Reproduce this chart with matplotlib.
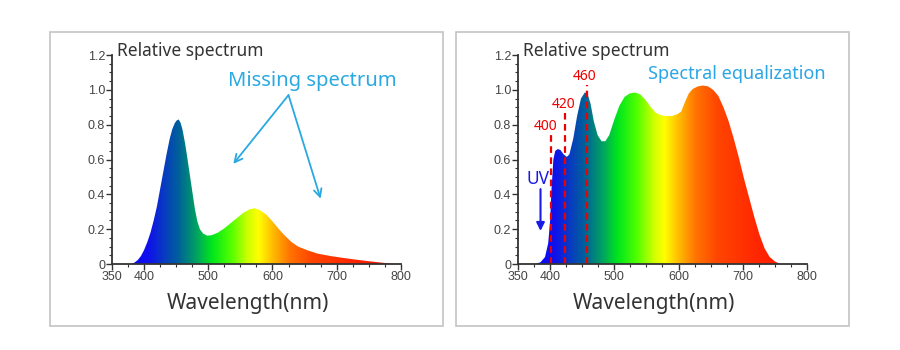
import numpy as np
import matplotlib.pyplot as plt
from matplotlib.colors import LinearSegmentedColormap
from matplotlib.patches import Rectangle
from matplotlib.ticker import MultipleLocator, FixedLocator, FuncFormatter

# left panel: spectrum with missing parts
wl_left = [380, 385, 390, 395, 400, 405, 410, 415, 420, 425, 430, 435, 440, 444, 448,
           451, 454, 457, 460, 464, 467, 471, 475, 479, 483, 487, 492, 498, 505, 515,
           525, 535, 545, 555, 565, 572, 580, 590, 600, 610, 620, 630, 640, 655, 670,
           690, 710, 730, 750, 770, 790]
val_left = [0, 0.008, 0.022, 0.045, 0.08, 0.125, 0.18, 0.25, 0.33, 0.43, 0.53, 0.63,
            0.72, 0.775, 0.81, 0.825, 0.83, 0.81, 0.77, 0.69, 0.62, 0.52, 0.42, 0.32,
            0.245, 0.2, 0.175, 0.163, 0.165, 0.18, 0.205, 0.235, 0.265, 0.295, 0.315,
            0.32, 0.31, 0.285, 0.245, 0.2, 0.16, 0.125, 0.1, 0.078, 0.06, 0.046, 0.035,
            0.025, 0.016, 0.008, 0]

# right panel: equalized spectrum
wl_right = [377, 385, 392, 397, 400, 402, 405, 408, 412, 416, 421, 426, 430, 436, 442,
            448, 454, 458, 463, 468, 474, 480, 486, 492, 500, 508, 516, 524, 532, 540,
            548, 556, 564, 572, 580, 590, 598, 604, 610, 616, 622, 630, 638, 646, 654,
            662, 670, 678, 686, 694, 702, 710, 718, 726, 734, 742, 750, 758]
val_right = [0, 0.01, 0.04, 0.12, 0.25, 0.42, 0.6, 0.65, 0.66, 0.655, 0.63, 0.615, 0.63,
             0.72, 0.85, 0.95, 0.985, 0.98, 0.92, 0.82, 0.74, 0.705, 0.705, 0.74, 0.83,
             0.91, 0.96, 0.98, 0.985, 0.975, 0.945, 0.905, 0.87, 0.855, 0.85, 0.85, 0.86,
             0.875, 0.93, 0.98, 1.005, 1.02, 1.025, 1.02, 1.0, 0.965, 0.9, 0.82, 0.72,
             0.61, 0.49, 0.38, 0.27, 0.17, 0.09, 0.04, 0.015, 0]

# marked wavelengths (line position, label, top of line)
mark_wl = [401, 423, 457]
mark_lbl = ['400', '420', '460']
mark_top = [0.74, 0.87, 1.03]

# colour stops of the spectrum gradient
stop_wl = [350, 405, 455, 480, 505, 535, 560, 578, 600, 625, 660, 720, 800]
stop_col = ['#0000ff', '#1010ee', '#006496', '#00a064', '#00e61e', '#50ff00', '#c8ff00',
            '#ffff00', '#ffbe00', '#ff7800', '#ff4600', '#ff2800', '#ff0a00']

cmap = LinearSegmentedColormap.from_list(
    'spec', [((w - 350) / 450, c) for w, c in zip(stop_wl, stop_col)])

fig = plt.figure(figsize=(9, 3.5), dpi=100)

# panel frames
for x0 in [50, 456]:
    fig.patches.append(Rectangle((x0 / 900, 24 / 350), 393 / 900, 294 / 350,
                                 transform=fig.transFigure, fill=False,
                                 edgecolor='#c4c4c4', linewidth=1.2))


def draw_panel(left, wl, val, xlab_pos):
    ax = fig.add_axes([left, 0.2457, 0.321, 0.597])
    poly = ax.fill_between(wl, val, 0, color='none', linewidth=0)
    grad = np.linspace(0, 1, 500).reshape(1, -1)
    img = ax.imshow(grad, cmap=cmap, extent=[350, 800, 0, 1.2], aspect='auto',
                    interpolation='bilinear')
    path = poly.get_paths()[0]
    img.set_clip_path(path, transform=ax.transData)
    ax.set_xlim(350, 800)
    ax.set_ylim(0, 1.2)
    for s in ['top', 'right']:
        ax.spines[s].set_visible(False)
    for s in ['left', 'bottom']:
        ax.spines[s].set_color('#333333')
        ax.spines[s].set_linewidth(1.3)
    ax.xaxis.set_major_locator(FixedLocator([350, 400, 500, 600, 700, 800]))
    ax.xaxis.set_minor_locator(MultipleLocator(25))
    ax.yaxis.set_major_locator(MultipleLocator(0.2))
    ax.yaxis.set_minor_locator(MultipleLocator(0.05))
    ax.yaxis.set_major_formatter(FuncFormatter(lambda v, p: '0' if abs(v) < 1e-9 else '%.1f' % v))
    ax.tick_params(which='major', length=4, width=1, color='#333333',
                   labelsize=9, labelcolor='#444444', pad=1)
    ax.tick_params(which='minor', length=2, width=0.8, color='#333333')
    for t in ax.get_xticklabels() + ax.get_yticklabels():
        t.set_family('Liberation Sans')
    ax.text(358, 1.225, 'Relative spectrum', fontsize=12.5, color='#333333',
            family='Noto Sans', va='center', ha='left')
    ax.set_xlabel('Wavelength(nm)', fontsize=15, color='#333333', family='Noto Sans')
    ax.xaxis.set_label_coords(xlab_pos, -0.14)
    return ax


ax1 = draw_panel(0.1244, wl_left, val_left, 0.472)
ax1.text(531, 1.05, 'Missing spectrum', fontsize=14.5, color='#29a9e1',
         family='Noto Sans', va='center', ha='left')
for end in [(539, 0.575), (675, 0.375)]:
    ax1.annotate('', xy=end, xytext=(625, 0.97),
                 arrowprops=dict(arrowstyle='->', color='#29a9e1', lw=1.3,
                                 mutation_scale=14, shrinkA=0, shrinkB=0))

ax2 = draw_panel(0.5756, wl_right, val_right, 0.469)
ax2.text(829, 1.09, 'Spectral equalization', fontsize=13, color='#2aa5e5',
         family='Noto Sans', va='center', ha='right')
for (w, lbl, top), dx in zip(zip(mark_wl, mark_lbl, mark_top), [-7.5, -1.5, -3]):
    ax2.plot([w, w], [0, top], color='#ee0000', linestyle=(0, (3, 2)), linewidth=1.6)
    ax2.text(w + dx, top + 0.005, lbl, fontsize=10, color='#ee0000',
             family='Noto Sans', ha='center', va='bottom')
ax2.text(381, 0.49, 'UV', fontsize=12.5, color='#1a1ae6', family='Noto Sans',
         ha='center', va='center')
ax2.annotate('', xy=(385, 0.19), xytext=(385, 0.43),
             arrowprops=dict(arrowstyle='-|>', color='#1a1ae6', lw=1.5,
                             mutation_scale=12, shrinkA=0, shrinkB=0))

fig.savefig('out.png', dpi=100)
